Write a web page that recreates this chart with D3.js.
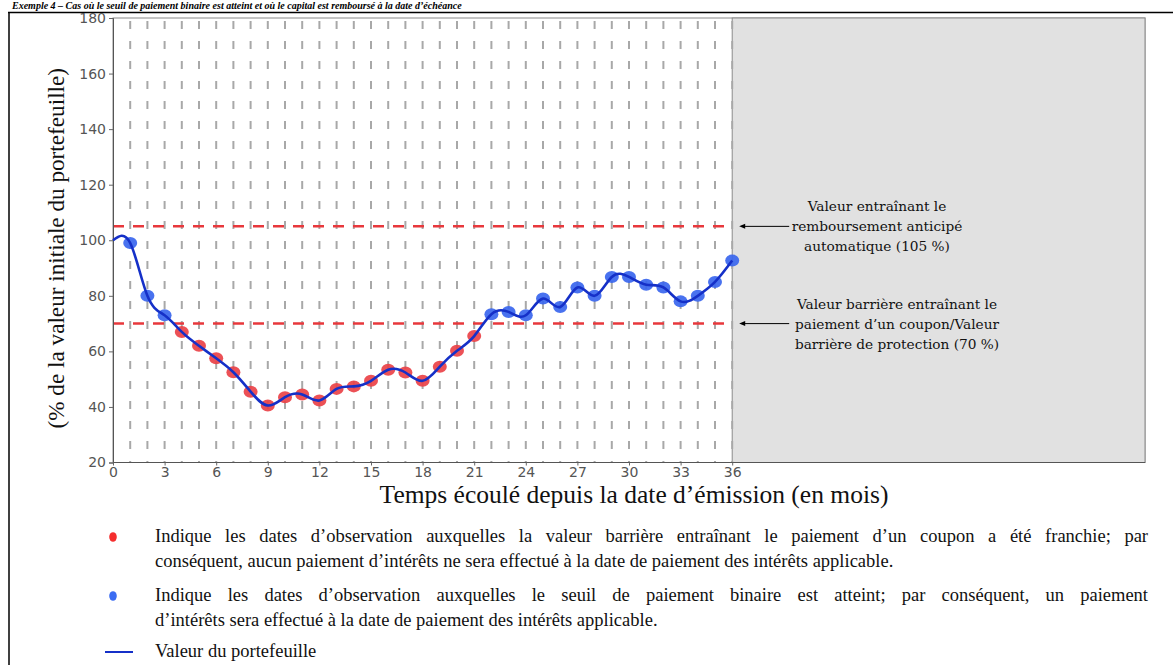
<!DOCTYPE html>
<html><head><meta charset="utf-8">
<script src="https://cdn.jsdelivr.net/npm/d3@7"></script>
<style>
html,body{margin:0;padding:0;background:#fff;}
svg{display:block;}
</style></head>
<body>
<svg id="chart" width="1173" height="665"></svg>
<script>
// ---- data ----
const months = d3.range(0, 37);
const portfolioValues = [100, 99, 80, 73, 67, 62, 57.5, 52.5, 45.5, 40.5, 43.5, 44.5, 42.3, 46.5, 47.4, 49.4, 53.4, 52.4, 49.4, 54.5, 60.2, 65.5, 73.4, 74.2, 73, 79, 76, 83, 80, 86.8, 86.8, 84, 83, 78, 80, 85, 92.7];
// observation status: "none" = start, "red" = barrier breached, "blue" = binary threshold reached
const observationStatus = ["none","blue","blue","blue","red","red","red","red","red","red","red","red","red","red","red","red","red","red","red","red","red","red","blue","blue","blue","blue","blue","blue","blue","blue","blue","blue","blue","blue","blue","blue","blue"];
const xTicks = [0,3,6,9,12,15,18,21,24,27,30,33,36];
const xTickLabels = ["0","3","6","9","12","15","18","21","24","27","30","33","36"];
const yTicks = [20,40,60,80,100,120,140,160,180];
const autocallLevel = 105;
const barrierLevel = 70;
const observedEnd = 36;
const xDomainEnd = 60;
const yAxisTitle = "(% de la valeur initiale du portefeuille)";
const xAxisTitle = "Temps écoulé depuis la date d’émission (en mois)";
const annotAutocall = ["Valeur entraînant le", "remboursement anticipé", "automatique (105 %)"];
const annotBarrier = ["Valeur barrière entraînant le", "paiement d’un coupon/Valeur", "barrière de protection (70 %)"];
const legendItems = [
  {type:"dot", color:"#f52e2e", lines:["Indique les dates d’observation auxquelles la valeur barrière entraînant le paiement d’un coupon a été franchie; par", "conséquent, aucun paiement d’intérêts ne sera effectué à la date de paiement des intérêts applicable."]},
  {type:"dot", color:"#3b6cf2", lines:["Indique les dates d’observation auxquelles le seuil de paiement binaire est atteint; par conséquent, un paiement", "d’intérêts sera effectué à la date de paiement des intérêts applicable."]},
  {type:"line", color:"#1530c8", lines:["Valeur du portefeuille"]}
];
const headerText = "Exemple 4 – Cas où le seuil de paiement binaire est atteint et où le capital est remboursé à la date d’échéance";

// ---- layout ----
const svg = d3.select("#chart");
const x = d3.scaleLinear().domain([0, xDomainEnd]).range([113, 1145]);
const y = d3.scaleLinear().domain([20, 180]).range([462.5, 18]);

// header and frame
svg.append("text").attr("x", 12).attr("y", 9)
  .attr("font-family", "Liberation Serif").attr("font-weight", "bold").attr("font-style", "italic")
  .attr("font-size", 10).attr("fill", "#000").text(headerText);
svg.append("line").attr("x1", 8).attr("x2", 1173).attr("y1", 12.5).attr("y2", 12.5).attr("stroke", "#000").attr("stroke-width", 1.5);
svg.append("line").attr("x1", 9).attr("x2", 9).attr("y1", 12).attr("y2", 665).attr("stroke", "#000").attr("stroke-width", 1.5);

// plot frame + future gray region
svg.append("rect").attr("x", x(0)).attr("y", y(180)).attr("width", x(xDomainEnd) - x(0)).attr("height", y(20) - y(180))
  .attr("fill", "#fff").attr("stroke", "#8a8a8a").attr("stroke-width", 1);
svg.append("rect").attr("x", x(observedEnd)).attr("y", y(180)).attr("width", x(xDomainEnd) - x(observedEnd)).attr("height", y(20) - y(180))
  .attr("fill", "#e1e1e1").attr("stroke", "#8a8a8a").attr("stroke-width", 1);

// vertical dashed observation lines
svg.append("g").selectAll("line").data(months.filter(m => m > 0)).join("line")
  .attr("x1", d => x(d)).attr("x2", d => x(d))
  .attr("y1", y(180) + 3).attr("y2", y(20))
  .attr("stroke", "#a8a8a8").attr("stroke-width", 2).attr("stroke-dasharray", "8,12");

// red level lines
[autocallLevel, barrierLevel].forEach(v => {
  svg.append("line").attr("x1", x(0)).attr("x2", x(observedEnd))
    .attr("y1", y(v)).attr("y2", y(v))
    .attr("stroke", "#e8383c").attr("stroke-width", 2.5).attr("stroke-dasharray", "11,9");
});

// axes
const yAxis = d3.axisLeft(y).tickValues(yTicks).tickSize(4).tickPadding(3);
const gy = svg.append("g").attr("transform", `translate(${x(0)},0)`).call(yAxis);
const xAxis = d3.axisBottom(x).tickValues(xTicks).tickFormat((d,i) => xTickLabels[i]).tickSize(3).tickPadding(2);
const gx = svg.append("g").attr("transform", `translate(0,${y(20)})`).call(xAxis);
[gx, gy].forEach(g => {
  g.select(".domain").attr("stroke", "#555");
  g.selectAll(".tick line").attr("stroke", "#666");
  g.selectAll(".tick text").attr("font-family", "DejaVu Sans").attr("font-size", 14).attr("fill", "#555");
});
gx.select(".domain").attr("d", `M${x(0)},0H${x(xDomainEnd)}`);

// markers
const pts = months.map((m, i) => ({m, v: portfolioValues[i], s: observationStatus[i]}));
svg.append("g").selectAll("ellipse").data(pts.filter(p => p.s !== "none")).join("ellipse")
  .attr("cx", d => x(d.m)).attr("cy", d => y(d.v)).attr("rx", 7).attr("ry", 6)
  .attr("fill", d => d.s === "red" ? "#ea4248" : "#3a66ee").attr("opacity", 0.92);

// portfolio line
const line = d3.line().x(d => x(d.m)).y(d => y(d.v)).curve(d3.curveNatural);
svg.append("path").datum(pts).attr("d", line).attr("fill", "none")
  .attr("stroke", "#1530c8").attr("stroke-width", 2.6);

// axis titles
svg.append("text").attr("transform", `translate(64,${(y(20)+y(180))/2 + 8}) rotate(-90)`)
  .attr("text-anchor", "middle").attr("font-family", "Liberation Serif").attr("font-size", 23.2)
  .attr("fill", "#111").text(yAxisTitle);
svg.append("text").attr("x", 634).attr("y", 503).attr("text-anchor", "middle")
  .attr("font-family", "Liberation Serif").attr("font-size", 25.5).attr("fill", "#111").text(xAxisTitle);

// annotations with arrows
function annotate(level, lines, cx) {
  const yy = y(level);
  svg.append("line").attr("x1", x(observedEnd) + 9).attr("x2", x(observedEnd) + 57).attr("y1", yy).attr("y2", yy)
    .attr("stroke", "#000").attr("stroke-width", 1);
  svg.append("path").attr("d", `M${x(observedEnd)+7},${yy} l6,-2.5 v5 z`).attr("fill", "#000");
  svg.append("g").selectAll("text").data(lines).join("text")
    .attr("x", cx).attr("y", (d, i) => yy + 5 + (i - 1) * 20).attr("text-anchor", "middle")
    .attr("font-family", "DejaVu Serif").attr("font-size", 13.7).attr("fill", "#111").text(d => d);
}
annotate(autocallLevel, annotAutocall, 877);
annotate(barrierLevel, annotBarrier, 897);

// legend
const legendY = [542, 601, 657];
const legendRight = 1148, textX = 155;
legendItems.forEach((item, k) => {
  const by = legendY[k];
  if (item.type === "dot") {
    svg.append("ellipse").attr("cx", 113).attr("cy", by - 5).attr("rx", 3.8).attr("ry", 4.8).attr("fill", item.color);
  } else {
    svg.append("line").attr("x1", 105).attr("x2", 133).attr("y1", by - 5).attr("y2", by - 5)
      .attr("stroke", item.color).attr("stroke-width", 2);
  }
  item.lines.forEach((t, j) => {
    const tx = svg.append("text").attr("x", textX).attr("y", by + j * 24.5)
      .attr("font-family", "Liberation Serif").attr("font-size", 18.5).attr("fill", "#111").text(t);
    if (item.lines.length > 1 && j === 0) {
      const w = tx.node().getComputedTextLength();
      const spaces = (t.match(/ /g) || []).length;
      if (spaces > 0 && w < legendRight - textX) tx.attr("word-spacing", (legendRight - textX - w) / spaces);
    }
  });
});
</script>
</body></html>
